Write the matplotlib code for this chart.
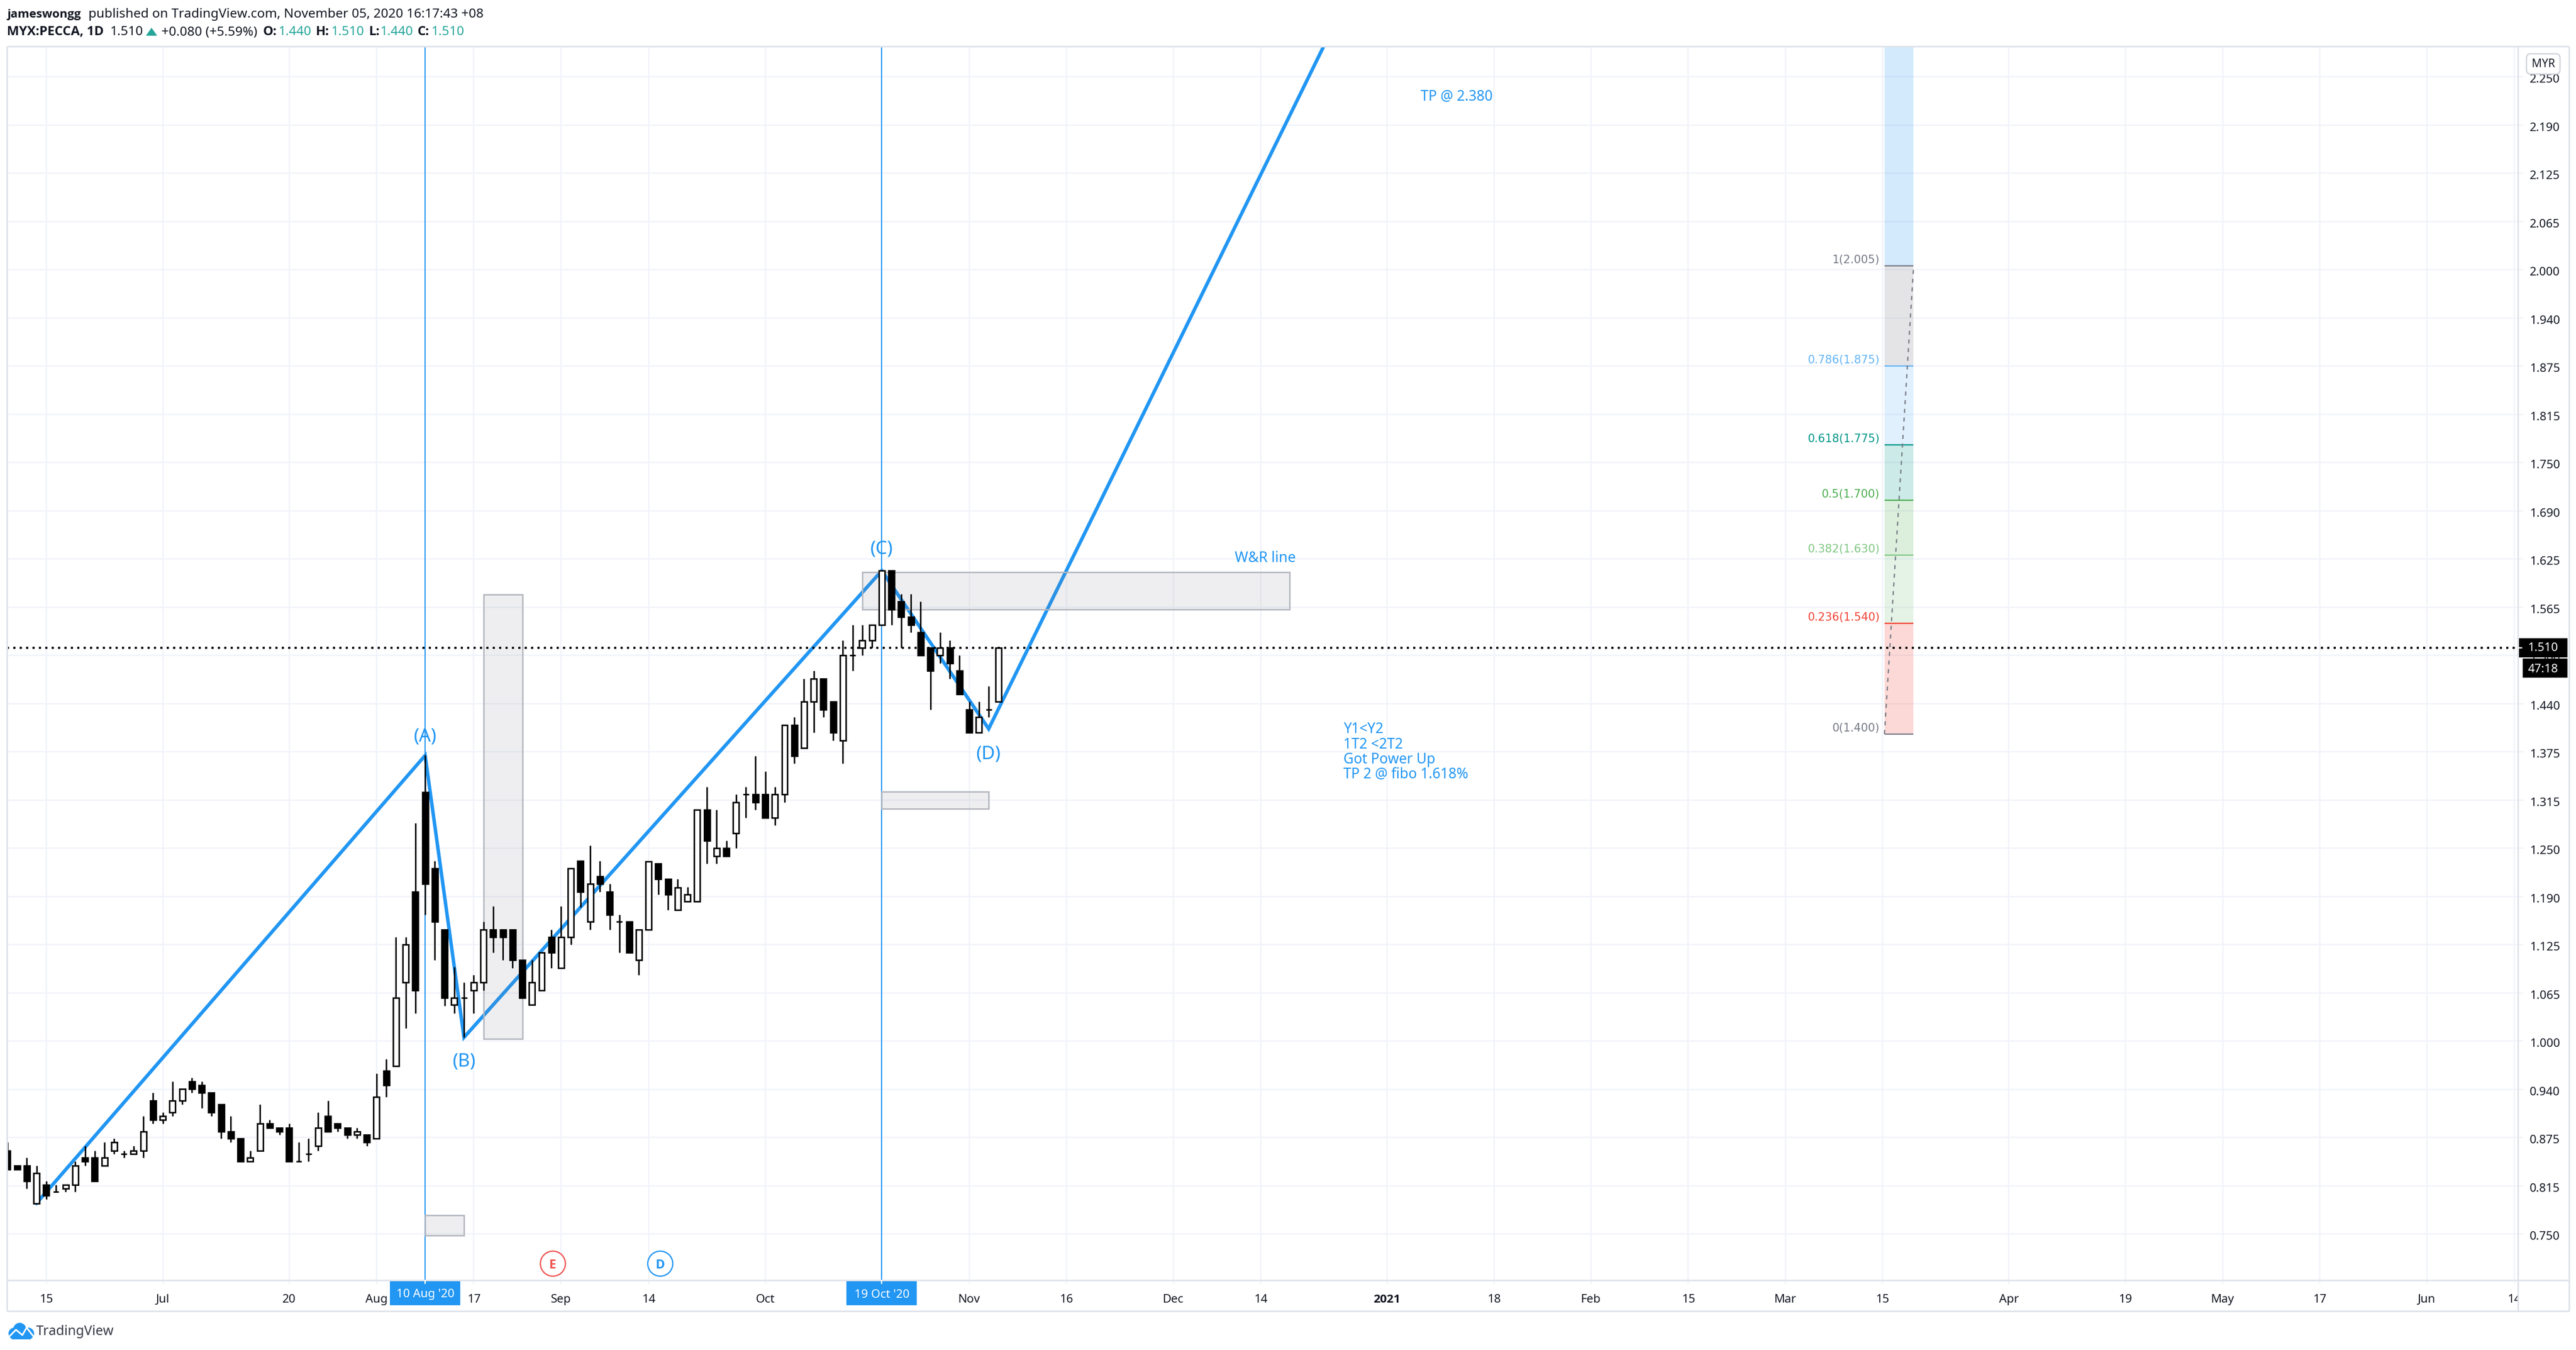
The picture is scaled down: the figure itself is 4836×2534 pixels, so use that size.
import matplotlib
matplotlib.use("Agg")
import matplotlib.pyplot as plt
from matplotlib import font_manager as fm
from matplotlib.patches import Rectangle, Polygon, Circle, FancyBboxPatch
from matplotlib.lines import Line2D
from matplotlib.transforms import IdentityTransform, Affine2D

# ---------- data ----------
opens = [.858,.839,.839,.790,.814,.805,.809,.814,.849,.849,.839,.858,.854,.854,.858,.923,.898,.908,.923,.948,
         .943,.933,.918,.883,.874,.844,.858,.893,.888,.888,.844,.854,.864,.903,.893,.888,.879,.879,.874,.962,
         .968,1.076,1.194,1.323,1.224,1.145,1.047,1.056,1.066,1.076,1.145,1.145,1.145,1.105,1.047,1.066,1.135,1.095,1.135,1.234,
         1.155,1.214,1.194,1.155,1.155,1.105,1.145,1.230,1.210,1.170,1.181,1.181,1.30,1.24,1.25,1.27,1.32,1.32,1.32,1.29,
         1.32,1.41,1.38,1.44,1.47,1.44,1.39,1.50,1.51,1.52,1.54,1.61,1.57,1.55,1.53,1.51,1.50,1.51,1.48,1.43,
         1.40,1.43,1.44]
highs = [.869,.839,.849,.839,.819,.814,.814,.844,.864,.858,.869,.874,.858,.864,.903,.933,.908,.948,.938,.953,
         .948,.933,.918,.903,.874,.858,.918,.898,.888,.893,.869,.874,.908,.923,.893,.888,.888,.879,.958,.977,
         1.135,1.135,1.283,1.371,1.234,1.145,1.096,1.076,1.086,1.155,1.175,1.145,1.145,1.105,1.105,1.115,1.145,1.175,1.224,1.234,
         1.254,1.234,1.204,1.164,1.155,1.145,1.233,1.230,1.210,1.210,1.200,1.30,1.33,1.30,1.26,1.32,1.33,1.37,1.35,1.33,
         1.41,1.42,1.47,1.48,1.47,1.44,1.52,1.54,1.54,1.54,1.61,1.61,1.58,1.58,1.57,1.51,1.53,1.52,1.50,1.44,
         1.44,1.46,1.51]
lows = [.834,.834,.809,.790,.795,.805,.805,.805,.839,.819,.839,.854,.849,.854,.849,.893,.893,.903,.918,.933,
        .913,.903,.874,.869,.844,.844,.858,.888,.879,.844,.844,.844,.858,.883,.883,.874,.874,.864,.874,.928,
        .968,1.017,1.036,1.164,1.105,1.046,1.036,1.005,1.036,1.066,1.115,1.105,1.095,1.056,1.047,1.066,1.095,1.095,1.125,1.174,
        1.145,1.194,1.145,1.115,1.115,1.086,1.145,1.190,1.170,1.170,1.181,1.181,1.23,1.23,1.24,1.25,1.29,1.30,1.29,1.28,
        1.31,1.36,1.38,1.40,1.42,1.39,1.36,1.48,1.50,1.51,1.54,1.54,1.51,1.53,1.50,1.43,1.49,1.47,1.45,1.40,
        1.40,1.42,1.44]
closes = [.834,.834,.819,.829,.800,.805,.814,.839,.844,.819,.849,.869,.854,.858,.883,.898,.903,.923,.938,.938,
          .933,.908,.883,.874,.844,.849,.893,.888,.883,.844,.844,.854,.888,.883,.888,.879,.883,.869,.928,.943,
          1.056,1.125,1.066,1.204,1.155,1.056,1.056,1.056,1.076,1.145,1.135,1.135,1.105,1.056,1.076,1.115,1.115,1.135,1.224,1.194,
          1.204,1.204,1.164,1.155,1.115,1.145,1.233,1.210,1.190,1.199,1.190,1.30,1.26,1.25,1.24,1.31,1.32,1.31,1.29,1.32,
          1.41,1.37,1.44,1.47,1.43,1.40,1.50,1.50,1.52,1.54,1.61,1.56,1.55,1.54,1.50,1.48,1.51,1.49,1.45,1.40,
          1.42,1.43,1.51]

wave_x = [3, 43, 47, 90, 101, 139]
wave_y = [.79, 1.3705, 1.005, 1.61, 1.405, 2.38]
wave_labels = ["(A)", "(B)", "(C)", "(D)"]
wave_label_x = [43, 47, 90, 101]
wave_label_y = [1.395, .9735, 1.638, 1.372]

boxes_x0 = [43, 49, 88, 90]
boxes_x1 = [47, 53, 132, 101]
boxes_lo = [.7483, 1.003, 1.56, 1.3014]
boxes_hi = [.7745, 1.579, 1.6084, 1.3235]

vline_bars = [43, 90]
vline_names = ["10 Aug '20", "19 Oct '20"]

fib_levels = ["1", "0.786", "0.618", "0.5", "0.382", "0.236", "0"]
fib_prices = [2.005, 1.875, 1.775, 1.700, 1.630, 1.540, 1.400]
fib_plot = [2.005, 1.8753, 1.7731, 1.7013, 1.6304, 1.5418, 1.3983]
fib_colors = ["#787b86", "#64b5f6", "#009688", "#4caf50", "#81c784", "#f44336", "#787b86"]
fib_x = [193.2, 196.2]
fib_top = 2.618

price_ticks = [.75 + .0625 * k for k in range(25)]
price_labels = ["0.750","0.815","0.875","0.940","1.000","1.065","1.125","1.190","1.250","1.315","1.375","1.440",
                "1.500","1.565","1.625","1.690","1.750","1.815","1.875","1.940","2.000","2.065","2.125","2.190","2.250"]
time_ticks = [4,16,29,38,48,57,66,78,99,109,120,129,142,153,163,173,183,193,206,218,228,238,249,258]
time_labels = ["15","Jul","20","Aug","17","Sep","14","Oct","Nov","16","Dec","14","2021","18","Feb","15","Mar","15",
               "Apr","19","May","17","Jun","14"]
last_price = 1.51
event_x = [56.15, 67.2]
event_y = [.7117, .7117]
event_names = ["E", "D"]
event_colors = ["#ef5350", "#2196f3"]

note_x = 137.5
note_lines = ["Y1<Y2", "1T2 <2T2", "Got Power Up", "TP 2 @ fibo 1.618%"]
note_y = [1.4040, 1.3840, 1.3647, 1.3453]

# ---------- layout ----------
W, H = 4836, 2534
DPI = 100
PX = 72 / DPI
BAR0, BARW = 13.8, 18.24
L, R, T, B = 13, 4727, 87, 2403
BLUE = "#2196f3"
BORDER = "#e0e3eb"
GRID = "#f0f3fa"
INK = "#131722"
TEAL = "#26a69a"
FONT = "Noto Sans"
plt.rcParams["font.family"] = FONT

# a family among the installed ones that really has a bold face
BOLD = "Liberation Sans"
for fam in ["Noto Sans", "Open Sans", "Lato", "Roboto"]:
    if any(f.name == fam and (f.weight == "bold" or f.weight == 700) for f in fm.fontManager.ttflist):
        BOLD = fam
        break

def bar_of(px):
    return (px - BAR0) / BARW
def price_of(py):
    return last_price - (py - 1216) / 1448

fig = plt.figure(figsize=(W / DPI, H / DPI), dpi=DPI, facecolor="white")
ax = fig.add_axes([L / W, 1 - B / H, (R - L) / W, (B - T) / H])
ax.set_xlim(bar_of(L), bar_of(R))
ax.set_ylim(price_of(B), price_of(T))
for s in ax.spines.values():
    s.set_visible(False)
ax.set_axisbelow(True)
ax.yaxis.tick_right()
ax.tick_params(axis="y", length=10 * PX, width=2.5 * PX, color=GRID, pad=12 * PX)
ax.tick_params(axis="x", length=7 * PX, width=2.5 * PX, color=GRID, pad=19 * PX)
ax.set_yticks(price_ticks)
ax.set_yticklabels(price_labels, fontsize=16, color=INK, ha="left")
ax.set_xticks(time_ticks)
ax.set_xticklabels(time_labels, fontsize=16, color=INK)
for lab, txt in zip(ax.get_xticklabels(), time_labels):
    if txt == "2021":
        lab.set_fontweight("bold")
        lab.set_fontfamily(BOLD)
for lab in ax.get_yticklabels():
    lab.set_transform(lab.get_transform() + Affine2D().translate(0, -3))
ax.grid(True, color=GRID, lw=2.5 * PX, zorder=1)

# wave line, below the zone boxes
ax.plot(wave_x, wave_y, color=BLUE, lw=6.5 * PX, zorder=2, solid_joinstyle="miter")
ax.vlines(vline_bars, price_of(B), price_of(T), color=BLUE, lw=2.2 * PX, zorder=2.5)

# fibonacci
fx0, fx1 = fib_x
ax.add_patch(Rectangle((fx0, fib_plot[0]), fx1 - fx0, fib_top - fib_plot[0], fc=BLUE, alpha=.2, lw=0, zorder=3))
for i in range(len(fib_plot) - 1):
    ax.add_patch(Rectangle((fx0, fib_plot[i + 1]), fx1 - fx0, fib_plot[i] - fib_plot[i + 1],
                           fc=fib_colors[i], alpha=.2, lw=0, zorder=3))
ax.hlines(fib_plot, fx0, fx1, colors=fib_colors, lw=2.4 * PX, zorder=3.2)
ax.plot([fx0, fx1], [fib_plot[-1], fib_plot[0]], color="#787b86", lw=2.4 * PX, ls=(0, (3.2, 3.6)), zorder=3.3)
for lv, pr, pl, c in zip(fib_levels, fib_prices, fib_plot, fib_colors):
    ax.annotate(f"{lv}({pr:.3f})", (fx0, pl), xytext=(-9 * PX, 11 * PX), textcoords="offset points",
                ha="right", va="center", fontsize=15, color=c, zorder=4, fontfamily="DejaVu Sans")

# zone boxes
for a, b, lo, hi in zip(boxes_x0, boxes_x1, boxes_lo, boxes_hi):
    ax.add_patch(Rectangle((a, lo), b - a, hi - lo, fc="#787b86", ec="none", alpha=.12, zorder=3))
    ax.add_patch(Rectangle((a, lo), b - a, hi - lo, fc="none", ec="#b2b5be", lw=2.6 * PX, zorder=3.1))

ax.axhline(last_price, color="black", lw=4 * PX, ls=(0, (1, 2)), zorder=4.5)

# candles
idx = list(range(len(opens)))
ax.vlines(idx, lows, highs, color="black", lw=2.8 * PX, zorder=5)
for i, o, c in zip(idx, opens, closes):
    up = c > o
    ax.add_patch(Rectangle((i - .3, min(o, c)), .6, abs(c - o), fc="white" if up else "black", ec="black",
                           lw=2.8 * PX, zorder=5.2, joinstyle="miter"))

# annotation text
for t, x, y in zip(wave_labels, wave_label_x, wave_label_y):
    ax.text(x, y, t, color=BLUE, fontsize=25, ha="center", va="center", zorder=7)
ax.text(bar_of(2375), price_of(1048), "W&R line", color=BLUE, fontsize=19.5, ha="center", va="center", zorder=7)
ax.text(bar_of(2735), price_of(182), "TP @ 2.380", color=BLUE, fontsize=19, ha="center", va="center", zorder=7)
for t, y in zip(note_lines, note_y):
    ax.text(note_x, y, t, color=BLUE, fontsize=19, ha="left", va="center", zorder=7)

# event markers
ax.scatter(event_x, event_y, s=(47 * PX) ** 2, facecolors="white", edgecolors=event_colors, linewidths=2.4 * PX, zorder=7)
for x, y, n, c in zip(event_x, event_y, event_names, event_colors):
    ax.text(x, y - .002, n, color=c, fontsize=17, fontweight="bold", fontfamily=BOLD, ha="center", va="center", zorder=8)

# ---------- chrome, in pixel coordinates ----------
ID = IdentityTransform()
def frect(x0, y0, x1, y1, **kw):
    fig.add_artist(Rectangle((x0, H - y1), x1 - x0, y1 - y0, transform=ID, lw=kw.pop("lw", 0), **kw))
def fline(xs, ys, c=BORDER, lw=3, **kw):
    fig.add_artist(Line2D(xs, [H - y for y in ys], transform=ID, color=c, lw=lw * PX, solid_capstyle="butt", **kw))
def ftext(x, y, s, **kw):
    kw.setdefault("va", "center")
    kw.setdefault("fontsize", 17.5)
    kw.setdefault("color", INK)
    if kw.get("fontweight") == "bold":
        kw["fontfamily"] = BOLD
    fig.text(x, H - y - 2, s, transform=ID, **kw)

frect(R + 1, B + 1, 4822, 2460, fc="white")
fline([L, 4823], [T, T])
fline([L, 4823], [B, B])
fline([L, 4823], [2461, 2461])
fline([L, L], [T, 2461])
fline([R, R], [T, 2461])
fline([4823, 4823], [T, 2461])

# price tags
frect(R - 1, 1198, 4820, 1234, fc="black")
frect(4736, 1236, 4820, 1272, fc="black")
fline([R, 4735], [1216, 1216], c="white", lw=2.5)
ftext(4745, 1215, "1.510", color="white", fontsize=16)
ftext(4745, 1254, "47:18", color="white", fontsize=16)

# currency box
fig.add_artist(FancyBboxPatch((4747, H - 135), 55, 30, boxstyle="round,pad=4,rounding_size=8", transform=ID,
                              fc="white", ec="#d1d4dc", lw=2.5 * PX))
ftext(4774.5, 118, "MYR", ha="center", fontsize=15)

# crosshair date tags
for b, name in zip(vline_bars, vline_names):
    cx = BAR0 + BARW * b
    frect(cx - 66, 2404, cx + 66, 2450, fc=BLUE)
    fline([cx, cx], [2403, 2410], c="white", lw=2.5)
    ftext(cx, 2428, name, color="white", ha="center", fontsize=16)

# header
ftext(13, 25, "jameswongg", fontweight="bold", fontsize=16)
ftext(166, 25, "published on TradingView.com, November 05, 2020 16:17:43 +08")
ftext(13, 58, "MYX:PECCA, 1D", fontweight="bold")
ftext(207, 58, "1.510")
fig.add_artist(Polygon([(274, H - 67), (295, H - 67), (284.5, H - 52)], transform=ID, fc=TEAL, lw=0))
ftext(303, 58, "+0.080 (+5.59%)")
for lx, lab, vx, val in [(494, "O:", 523, "1.440"), (593, "H:", 622, "1.510"), (693, "L:", 714, "1.440"), (784, "C:", 810, "1.510")]:
    ftext(lx, 58, lab, fontweight="bold")
    ftext(vx, 58, val, color=TEAL)

# logo
for cx, cy, r in [(27, 2503, 11), (37, 2495, 12), (53, 2503, 11)]:
    fig.add_artist(Circle((cx, H - cy), r, transform=ID, fc=BLUE, lw=0))
frect(22, 2503, 58, 2514, fc=BLUE)
fline([14, 30, 42, 50, 64], [2512, 2496, 2506, 2492, 2510], c="white", lw=3)
ftext(68, 2498, "TradingView", fontsize=18, color="#363a45")

fig.savefig("out.png", dpi=DPI, facecolor="white")
